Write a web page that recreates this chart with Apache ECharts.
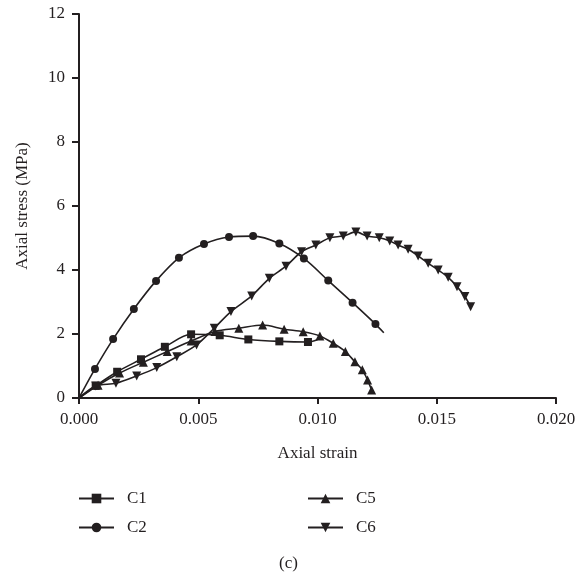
<!DOCTYPE html>
<html>
<head>
<meta charset="utf-8">
<script src="https://cdn.jsdelivr.net/npm/echarts@6/dist/echarts.min.js"></script>
<style>
  html, body { margin: 0; padding: 0; background: #fff; }
  #chart { width: 579px; height: 578px; }
</style>
</head>
<body>
<div id="chart"></div>
<script>
// values: [strain, stress MPa]
var c1 = [[0, 0], [0.0007, 0.38], [0.0016, 0.82], [0.0026, 1.21], [0.0036, 1.60], [0.0047, 1.99],
  [0.0059, 1.96], [0.0071, 1.83], [0.0084, 1.77], [0.0096, 1.75], [0.0100, 1.82]]
var c2 = [[0, 0], [0.00067, 0.91], [0.00143, 1.84], [0.0023, 2.78], [0.00323, 3.66], [0.00419, 4.38],
  [0.00524, 4.81], [0.00629, 5.03], [0.0073, 5.06], [0.0084, 4.83], [0.00943, 4.36], [0.01045, 3.67],
  [0.01147, 2.98], [0.01243, 2.31], [0.01278, 2.04]]
var c5 = [[0, 0], [0.0008, 0.40], [0.0017, 0.78], [0.0027, 1.12], [0.0037, 1.45], [0.0047, 1.78],
  [0.0057, 2.08], [0.0067, 2.18], [0.0077, 2.28], [0.0086, 2.15], [0.0094, 2.07], [0.0101, 1.94],
  [0.01066, 1.71], [0.01117, 1.45], [0.01157, 1.13], [0.01188, 0.88], [0.0121, 0.56], [0.01227, 0.25]]
var c6 = [[0, 0], [0.0007, 0.375], [0.00155, 0.46], [0.00242, 0.69], [0.00326, 0.95], [0.0041, 1.29],
  [0.00493, 1.66], [0.00567, 2.18], [0.00637, 2.70], [0.00724, 3.19], [0.00798, 3.74], [0.00868, 4.12],
  [0.00933, 4.57], [0.00993, 4.78], [0.01052, 5.01], [0.01108, 5.06], [0.01161, 5.19], [0.01208, 5.06],
  [0.01259, 5.01], [0.01303, 4.91], [0.01338, 4.78], [0.0138, 4.65], [0.01422, 4.44], [0.01464, 4.21],
  [0.01506, 4.00], [0.01548, 3.77], [0.01585, 3.48], [0.01618, 3.17], [0.01642, 2.85]]

var names = ['C1', 'C2', 'C5', 'C6']
var ink = '#231f20'
var serif = 'Liberation Serif, DejaVu Serif, serif'

function marks (data, bareEnd) {
  // origin has no marker; C1 and C2 lines run on past their last marker
  return data.map(function (p, i) {
    if (i === 0 || (bareEnd && i === data.length - 1)) return { value: p, symbol: 'none' }
    return p
  })
}

function line (name, data, symbol, size, rotate, bareEnd) {
  return {
    name: name,
    type: 'line',
    data: marks(data, bareEnd),
    smooth: 0.3,
    symbol: symbol,
    symbolSize: size,
    symbolRotate: rotate || 0,
    showAllSymbol: true,
    lineStyle: { color: ink, width: 1.6 },
    itemStyle: { color: ink },
    emphasis: { disabled: true },
    animation: false
  }
}

var legendText = { fontFamily: serif, fontSize: 17, color: ink, padding: [0, 0, 0, 8] }

var dom = echarts.init(document.getElementById('chart'))
var option = {
  backgroundColor: '#fff',
  textStyle: { fontFamily: serif, color: ink },
  grid: { left: 79, right: 23, top: 14, bottom: 180, containLabel: false },
  legend: [
    { data: ['C1', 'C2'], orient: 'vertical', left: 78, top: 490, padding: 0, itemWidth: 35, itemHeight: 12,
      itemGap: 12, textStyle: legendText },
    { data: ['C5', 'C6'], orient: 'vertical', left: 307, top: 490, padding: 0, itemWidth: 35, itemHeight: 12,
      itemGap: 12, textStyle: legendText }
  ],
  xAxis: {
    type: 'value', min: 0, max: 0.02, interval: 0.005,
    name: 'Axial strain', nameLocation: 'middle', nameGap: 47,
    nameTextStyle: { fontFamily: serif, fontSize: 17, color: ink },
    axisLine: { lineStyle: { color: ink, width: 2 } },
    axisTick: { inside: false, length: 6, lineStyle: { color: ink, width: 2 } },
    axisLabel: { fontFamily: serif, fontSize: 17, color: ink, margin: 13,
      formatter: function (v) { return v.toFixed(3) } },
    splitLine: { show: false }
  },
  yAxis: {
    type: 'value', min: 0, max: 12, interval: 2,
    name: 'Axial stress (MPa)', nameLocation: 'middle', nameGap: 48,
    nameTextStyle: { fontFamily: serif, fontSize: 17, color: ink },
    axisLine: { show: true, lineStyle: { color: ink, width: 2 } },
    axisTick: { show: true, inside: false, length: 7, lineStyle: { color: ink, width: 2 } },
    axisLabel: { fontFamily: serif, fontSize: 17, color: ink, margin: 14 },
    splitLine: { show: false }
  },
  graphic: [{
    type: 'text', left: 279, top: 555,
    style: { text: '(c)', font: '17px ' + serif, fill: ink }
  }],
  series: [
    line(names[0], c1, 'rect', 8, 0, true),
    line(names[1], c2, 'circle', 8, 0, true),
    line(names[2], c5, 'triangle', 9),
    line(names[3], c6, 'triangle', 9, 180)
  ]
}
dom.setOption(option)
</script>
</body>
</html>
